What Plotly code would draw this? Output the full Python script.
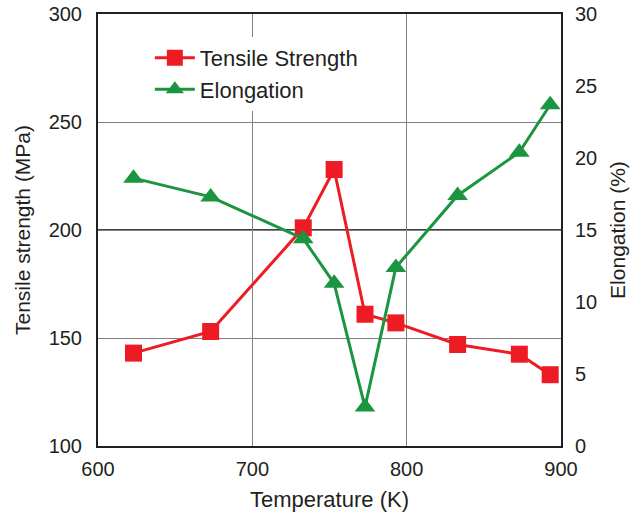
import plotly.graph_objects as go

# Test temperatures (K) and measured properties
temperature = [623, 673, 733, 753, 773, 793, 833, 873, 893]
tensile_strength = [143, 153, 201, 228, 161, 157, 147, 142.5, 133]   # MPa
elongation = [18.6, 17.3, 14.4, 11.3, 2.7, 12.4, 17.4, 20.4, 23.7]  # %

x_ticks = [600, 700, 800, 900]
left_ticks = [100, 150, 200, 250, 300]
right_ticks = [0, 5, 10, 15, 20, 25, 30]

RED = "#ED1C24"
GREEN = "#1B953F"
FONT = "Liberation Sans, Arial, sans-serif"

fig = go.Figure()

fig.add_trace(go.Scatter(
    x=temperature, y=tensile_strength, name="Tensile Strength",
    mode="lines+markers",
    line=dict(color=RED, width=3),
    marker=dict(symbol="square", size=17, color=RED),
    yaxis="y",
))

fig.add_trace(go.Scatter(
    x=temperature, y=elongation, name="Elongation",
    mode="lines+markers",
    line=dict(color=GREEN, width=3),
    marker=dict(symbol="triangle-up", size=18, color=GREEN),
    yaxis="y2",
))

# darker horizontal rule at 200 MPa
fig.add_shape(type="line", xref="paper", x0=0, x1=1, yref="y", y0=200, y1=200,
              line=dict(color="black", width=1.3), layer="between")

fig.update_layout(
    width=642, height=517,
    margin=dict(l=98, r=81, t=14, b=71, autoexpand=False),
    paper_bgcolor="white", plot_bgcolor="white",
    font=dict(family=FONT, size=20, color="#231F20"),
    showlegend=True,
    legend=dict(
        x=0.112, y=0.947, xanchor="left", yanchor="top",
        bgcolor="white", borderwidth=0,
        font=dict(size=22, color="#231F20"),
        itemwidth=40,
    ),
    xaxis=dict(
        range=[600, 900], tickvals=x_ticks, ticks="", automargin=False,
        showgrid=True, gridcolor="#808080", gridwidth=1,
        showline=True, linecolor="#231F20", linewidth=2, mirror=True,
        zeroline=False, ticklabelstandoff=4,
        title=dict(text="Temperature (K)", font=dict(size=22), standoff=13),
    ),
    yaxis=dict(
        range=[100, 300], tickvals=left_ticks, ticks="", automargin=False,
        showgrid=True, gridcolor="#808080", gridwidth=1,
        showline=True, linecolor="#231F20", linewidth=2, mirror=True,
        zeroline=False, ticklabelstandoff=10,
        title=dict(text="Tensile strength (MPa)", font=dict(size=21), standoff=12),
    ),
    yaxis2=dict(
        range=[0, 30], tickvals=right_ticks, ticks="", automargin=False,
        overlaying="y", side="right", showgrid=False,
        showline=True, linecolor="#231F20", linewidth=2,
        zeroline=False, ticklabelstandoff=8,
        title=dict(text="Elongation (%)", font=dict(size=21), standoff=14),
    ),
)

fig.write_html("out.html")
